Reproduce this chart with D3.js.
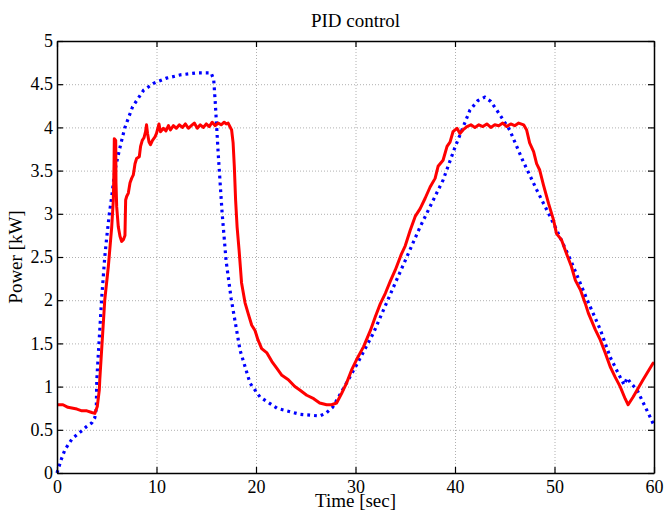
<!DOCTYPE html>
<html>
<head>
<meta charset="utf-8">
<script src="https://cdn.jsdelivr.net/npm/d3@7"></script>
<style>
  body { margin: 0; background: #fff; }
  svg { display: block; font-family: "Liberation Serif", "Times New Roman", serif; }
  .grid line { stroke: #b0b0b0; stroke-width: 1; stroke-dasharray: 1,2; }
  .grid path { display: none; }
  .axis path, .axis line { stroke: #000; }
  .axis text { font-size: 18px; fill: #000; font-family: "Liberation Serif", serif; }
</style>
</head>
<body>
<svg></svg>
<script>
// time axis ticks and power ticks
var xTicks = [0, 10, 20, 30, 40, 50, 60];
var yTicks = [0, 0.5, 1, 1.5, 2, 2.5, 3, 3.5, 4, 4.5, 5];

// blue dotted series
var refTime = [0, 0.47, 0.8, 1.54, 2.3, 3.0, 3.5, 3.8, 3.95, 4.0, 4.5, 4.8, 5.0, 5.26, 5.5, 5.8, 6.27, 6.8, 7.6, 8.7, 9.7, 11, 12.5, 14, 15.5, 15.75,
  15.9, 16.2, 16.6, 17.0, 17.5, 18.4, 19.4, 20.4, 22.1, 24.4, 26.4, 27.0, 27.7, 28.7, 30.2, 31.8, 34, 36.5, 38.8, 40, 41.5, 42.3, 43, 43.6,
  44.2, 45.5, 46.8, 48.2, 49.9, 51.6, 53.3, 54.6, 55.6, 56.6, 57.0, 57.3, 57.6, 58.3, 59.6, 60];
var refPower = [0, 0.17, 0.27, 0.4, 0.47, 0.54, 0.58, 0.64, 0.75, 1.08, 2.04, 2.5, 2.73, 3.0, 3.2, 3.49, 3.74, 3.99, 4.24, 4.43, 4.51, 4.57, 4.61, 4.63, 4.63, 4.55,
  4.3, 3.7, 3.0, 2.45, 2.02, 1.42, 1.04, 0.88, 0.75, 0.68, 0.66, 0.69, 0.76, 0.96, 1.27, 1.62, 2.2, 2.85, 3.39, 3.77, 4.2, 4.31, 4.35, 4.3,
  4.2, 3.97, 3.62, 3.28, 2.89, 2.47, 2.0, 1.66, 1.34, 1.11, 1.02, 1.1, 1.05, 0.96, 0.65, 0.55];

// red solid series
var pidTime = [0, 0.6, 1.1, 2.0, 2.5, 3.0, 3.5, 3.8, 4.05, 4.25, 4.3, 4.8, 5.16, 5.5, 5.66, 5.73, 5.76, 5.9, 5.93, 6.0, 6.16, 6.33, 6.5, 6.67, 6.83,
  6.9, 7.0, 7.17, 7.34, 7.5, 7.67, 7.84, 8.0, 8.27, 8.4, 8.57, 8.74, 8.9, 9.0, 9.1, 9.25, 9.4, 9.6, 9.85, 10.0, 10.25, 10.4, 10.7, 10.95,
  11.2, 11.4, 11.7, 12.0, 12.3, 12.6, 12.9, 13.2, 13.5, 13.8, 14.1, 14.4, 14.7, 15.0, 15.3, 15.6, 15.9, 16.2, 16.5, 16.8, 17.0, 17.2,
  17.55, 17.7, 17.82, 17.95, 18.1, 18.3, 18.55, 18.9, 19.2, 19.57, 19.9, 20.2, 20.57, 21.1, 21.6, 22.1, 22.6, 23.25, 23.9, 24.4, 25.1,
  25.8, 26.4, 27.1, 27.6, 28.1, 28.6, 29.1, 29.6, 30.1, 30.8, 31.5, 32.0, 32.5, 33.0, 33.5, 34.0, 34.6, 35.0, 35.5, 36.0, 36.5, 37.0,
  37.5, 38.0, 38.3, 38.8, 39.2, 39.5, 39.8, 40.2, 40.5, 40.8, 41.2, 41.6, 42.0, 42.4, 42.8, 43.2, 43.6, 44.0, 44.4, 44.8, 45.2, 45.6,
  46.0, 46.4, 46.9, 47.2, 47.5, 47.9, 48.2, 48.5, 48.9, 49.4, 49.9, 50.2, 50.7, 51.2, 51.7, 52.1, 52.6, 53.1, 53.4, 53.7, 54.1, 54.6,
  55.1, 55.6, 56.1, 56.6, 57.1, 57.4, 57.9, 58.9, 59.9, 60];
var pidPower = [0.79, 0.79, 0.76, 0.74, 0.72, 0.72, 0.70, 0.69, 0.77, 0.96, 1.08, 2.0, 2.39, 2.85, 3.16, 3.55, 3.87, 3.85, 3.36, 3.08, 2.85, 2.74, 2.68, 2.7, 2.75,
  3.16, 3.2, 3.24, 3.36, 3.41, 3.45, 3.58, 3.64, 3.66, 3.78, 3.85, 3.88, 3.95, 4.03, 3.93, 3.83, 3.8, 3.85, 3.89, 3.93, 4.04, 3.95, 3.99, 3.96,
  4.02, 3.97, 4.02, 3.99, 4.03, 4.0, 4.04, 3.99, 4.02, 4.05, 3.99, 4.03, 4.0, 4.04, 4.01, 4.06, 4.02, 4.05, 4.03, 4.06, 4.04, 4.05,
  3.97, 3.82, 3.55, 3.16, 2.85, 2.58, 2.2, 1.97, 1.85, 1.71, 1.65, 1.54, 1.44, 1.39, 1.29, 1.21, 1.13, 1.08, 1.0, 0.96, 0.9,
  0.86, 0.81, 0.79, 0.79, 0.81, 0.92, 1.04, 1.19, 1.31, 1.46, 1.65, 1.81, 1.96, 2.08, 2.22, 2.35, 2.53, 2.63, 2.81, 2.97, 3.06, 3.18,
  3.31, 3.41, 3.55, 3.62, 3.78, 3.83, 3.95, 3.99, 3.93, 3.97, 4.01, 4.03, 4.0, 4.03, 4.01, 4.04, 4.0, 4.03, 4.02, 4.05, 4.01, 4.04,
  4.02, 4.05, 4.03, 3.97, 3.82, 3.72, 3.58, 3.51, 3.33, 3.12, 2.93, 2.77, 2.7, 2.54, 2.39, 2.23, 2.12, 1.96, 1.85, 1.77, 1.66, 1.54,
  1.39, 1.23, 1.11, 1.0, 0.86, 0.79, 0.88, 1.08, 1.27, 1.28];

var W = 664, H = 512;
var margin = {top: 41, right: 10, bottom: 39, left: 57};
var width = W - margin.left - margin.right,
    height = H - margin.top - margin.bottom;

var svg = d3.select('svg')
  .attr('width', W)
  .attr('height', H);

var g = svg.append('g')
  .attr('transform', `translate(${margin.left},${margin.top})`);

var x = d3.scaleLinear().domain([0, 60]).range([0, width]);
var y = d3.scaleLinear().domain([0, 5]).range([height, 0]);

// dotted grid
g.append('g')
  .attr('class', 'grid')
  .attr('transform', `translate(0,${height})`)
  .call(d3.axisBottom(x).tickValues(xTicks).tickSize(-height).tickFormat(''));
g.append('g')
  .attr('class', 'grid')
  .call(d3.axisLeft(y).tickValues(yTicks).tickSize(-width).tickFormat(''));

// lines
var refData = refTime.map((t, i) => [t, refPower[i]]);
var pidData = pidTime.map((t, i) => [t, pidPower[i]]);

var line = d3.line()
  .x(d => x(d[0]))
  .y(d => y(d[1]));

svg.append('defs').append('clipPath').attr('id', 'clip')
  .append('rect').attr('x', -2).attr('y', -2).attr('width', width + 4).attr('height', height + 4);

var plot = g.append('g').attr('clip-path', 'url(#clip)');

plot.append('path')
  .datum(refData)
  .attr('fill', 'none')
  .attr('stroke', '#0000ff')
  .attr('stroke-width', 3.2)
  .attr('stroke-dasharray', '2.8,4')
  .attr('d', line);

plot.append('path')
  .datum(pidData)
  .attr('fill', 'none')
  .attr('stroke', '#ff0000')
  .attr('stroke-width', 3)
  .attr('stroke-linejoin', 'round')
  .attr('d', line);

// axes with inward ticks (box)
var fmt = d3.format('~g');

g.append('g')
  .attr('class', 'axis')
  .attr('transform', `translate(0,${height})`)
  .call(d3.axisBottom(x).tickValues(xTicks).tickSize(-6).tickSizeOuter(0).tickPadding(7).tickFormat(fmt));
g.append('g')
  .attr('class', 'axis')
  .call(d3.axisLeft(y).tickValues(yTicks).tickSize(-6).tickSizeOuter(0).tickPadding(4).tickFormat(fmt));
g.append('g')
  .attr('class', 'axis')
  .call(d3.axisTop(x).tickValues(xTicks).tickSize(-6).tickSizeOuter(0).tickFormat(''));
g.append('g')
  .attr('class', 'axis')
  .attr('transform', `translate(${width},0)`)
  .call(d3.axisRight(y).tickValues(yTicks).tickSize(-6).tickSizeOuter(0).tickFormat(''));

g.selectAll('.axis path').attr('stroke-width', 1.5);
g.selectAll('.axis line').attr('stroke-width', 1.2);

// labels
svg.append('text')
  .attr('x', margin.left + width / 2)
  .attr('y', 27)
  .attr('text-anchor', 'middle')
  .style('font-size', '19px')
  .text('PID control');

svg.append('text')
  .attr('x', margin.left + width / 2)
  .attr('y', 507)
  .attr('text-anchor', 'middle')
  .style('font-size', '19px')
  .text('Time [sec]');

svg.append('text')
  .attr('transform', `translate(22,${margin.top + height / 2}) rotate(-90)`)
  .attr('text-anchor', 'middle')
  .style('font-size', '19px')
  .text('Power [kW]');
</script>
</body>
</html>
